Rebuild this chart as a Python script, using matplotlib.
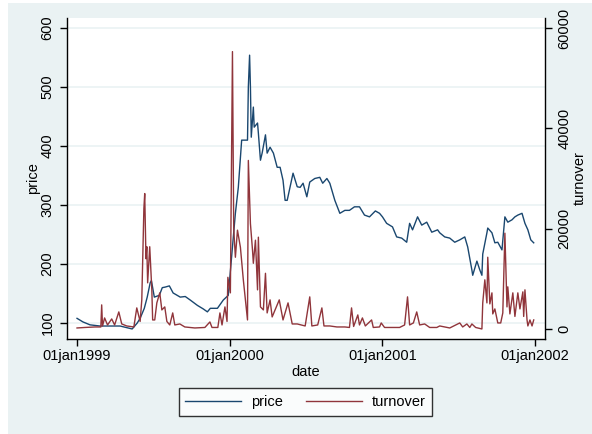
import matplotlib
matplotlib.use("Agg")
import matplotlib.pyplot as plt
import pandas as pd
from matplotlib.patches import Rectangle

plt.rcParams['font.family'] = ['Liberation Sans', 'DejaVu Sans']

price_dates = [
    "1999-01-01", "1999-01-15", "1999-02-01", "1999-02-25", "1999-03-21", "1999-04-14",
    "1999-05-13", "1999-05-25", "1999-06-01", "1999-06-11", "1999-06-18", "1999-06-25",
    "1999-06-28", "1999-07-05", "1999-07-17", "1999-07-24", "1999-07-31", "1999-08-10",
    "1999-08-19", "1999-09-05", "1999-09-17", "1999-09-29", "1999-10-16", "1999-10-30",
    "1999-11-09", "1999-11-16", "1999-12-03", "1999-12-17", "1999-12-29",
    "2000-01-08", "2000-01-15", "2000-01-22", "2000-01-30", "2000-02-13", "2000-02-15",
    "2000-02-18", "2000-02-20", "2000-02-22", "2000-02-27", "2000-02-29", "2000-03-08",
    "2000-03-10", "2000-03-15", "2000-03-19", "2000-03-27", "2000-03-31", "2000-04-07",
    "2000-04-15", "2000-04-24", "2000-05-01", "2000-05-08", "2000-05-13", "2000-05-18",
    "2000-05-25", "2000-06-01", "2000-06-11", "2000-06-18", "2000-06-25", "2000-07-04",
    "2000-07-11", "2000-07-23", "2000-08-04", "2000-08-11", "2000-08-21", "2000-08-28",
    "2000-09-09", "2000-09-21", "2000-10-03", "2000-10-14", "2000-10-26", "2000-11-07",
    "2000-11-19", "2000-12-01", "2000-12-15", "2000-12-25",
    "2001-01-01", "2001-01-11", "2001-01-25", "2001-02-04", "2001-02-16", "2001-02-28",
    "2001-03-07", "2001-03-14", "2001-03-26", "2001-04-05", "2001-04-17", "2001-04-29",
    "2001-05-13", "2001-05-18", "2001-05-30", "2001-06-11", "2001-06-23", "2001-07-05",
    "2001-07-17", "2001-07-24", "2001-08-03", "2001-08-05", "2001-08-15", "2001-08-22",
    "2001-08-27", "2001-08-29", "2001-09-08", "2001-09-10", "2001-09-20", "2001-09-27",
    "2001-10-04", "2001-10-14", "2001-10-21", "2001-10-28", "2001-11-07", "2001-11-14",
    "2001-11-21", "2001-12-01", "2001-12-08", "2001-12-15", "2001-12-22", "2001-12-29",
]
price_values = [
    108, 102, 97, 95, 95, 95,
    90, 100, 108, 125, 144, 168,
    172, 144, 147, 160, 161, 163,
    151, 144, 145, 139, 130, 124,
    119, 125, 125, 139, 147,
    229, 286, 330, 410, 410, 500,
    554, 500, 415, 466, 432, 439,
    422, 376, 388, 419, 388, 398,
    388, 364, 364, 342, 308, 308,
    331, 354, 331, 330, 337, 314,
    339, 345, 347, 337, 345, 337,
    308, 286, 291, 291, 297, 297,
    283, 280, 290, 286,
    280, 269, 263, 246, 244, 237,
    269, 258, 280, 266, 271, 254,
    258, 253, 246, 244, 237, 241,
    246, 229, 190, 181, 205, 190,
    181, 217, 253, 261, 253, 236,
    237, 224, 280, 271, 275, 280,
    283, 286, 269, 258, 241, 236,
]

turnover_dates = [
    "1999-01-01", "1999-01-20", "1999-02-13", "1999-02-27", "1999-03-01", "1999-03-03",
    "1999-03-08", "1999-03-15", "1999-03-25", "1999-04-01", "1999-04-11", "1999-04-18",
    "1999-04-30", "1999-05-17", "1999-05-24", "1999-06-01", "1999-06-05", "1999-06-10",
    "1999-06-12", "1999-06-15", "1999-06-17", "1999-06-19", "1999-06-24", "1999-06-29",
    "1999-07-01", "1999-07-06", "1999-07-11", "1999-07-18", "1999-07-23", "1999-07-30",
    "1999-08-04", "1999-08-11", "1999-08-18", "1999-08-23", "1999-09-04", "1999-09-16",
    "1999-10-10", "1999-11-03", "1999-11-15", "1999-11-20", "1999-12-04", "1999-12-09",
    "1999-12-14", "1999-12-21", "1999-12-26", "1999-12-28",
    "2000-01-03", "2000-01-08", "2000-01-11", "2000-01-15", "2000-01-20", "2000-01-27",
    "2000-02-03", "2000-02-13", "2000-02-15", "2000-02-20", "2000-02-25", "2000-02-27",
    "2000-03-03", "2000-03-08", "2000-03-10", "2000-03-15", "2000-03-22", "2000-03-27",
    "2000-03-31", "2000-04-07", "2000-04-12", "2000-04-24", "2000-04-29", "2000-05-08",
    "2000-05-20", "2000-05-30", "2000-06-11", "2000-06-30", "2000-07-11", "2000-07-16",
    "2000-07-30", "2000-08-09", "2000-08-14", "2000-08-28", "2000-09-14", "2000-10-03",
    "2000-10-14", "2000-10-19", "2000-10-24", "2000-11-03", "2000-11-07", "2000-11-14",
    "2000-11-21", "2000-12-06", "2000-12-10", "2000-12-25", "2000-12-29",
    "2001-01-06", "2001-01-25", "2001-02-11", "2001-02-23", "2001-03-02", "2001-03-07",
    "2001-03-16", "2001-03-24", "2001-03-31", "2001-04-12", "2001-04-24", "2001-05-11",
    "2001-05-18", "2001-06-11", "2001-07-05", "2001-07-12", "2001-07-22", "2001-07-29",
    "2001-08-03", "2001-08-12", "2001-08-27", "2001-08-29", "2001-09-03", "2001-09-08",
    "2001-09-10", "2001-09-15", "2001-09-20", "2001-09-22", "2001-09-27", "2001-10-04",
    "2001-10-11", "2001-10-16", "2001-10-21", "2001-10-26", "2001-10-28", "2001-11-02",
    "2001-11-09", "2001-11-14", "2001-11-21", "2001-11-26", "2001-12-03", "2001-12-05",
    "2001-12-08", "2001-12-13", "2001-12-15", "2001-12-20", "2001-12-25", "2001-12-29",
]
turnover_values = [
    200, 300, 400, 400, 4800, 600,
    2200, 800, 2000, 800, 3400, 1000,
    600, 400, 4200, 1500, 5800, 24000,
    27000, 14000, 16400, 9200, 16400, 7800,
    1800, 1800, 5200, 7200, 3800, 4400,
    1500, 800, 3200, 800, 1000, 400,
    200, 300, 1400, 300, 300, 3200,
    800, 4400, 1500, 10300,
    7200, 55300, 20000, 14300, 19700, 16300,
    9800, 1800, 33600, 21000, 15700, 13100,
    17700, 7800, 18300, 4400, 3800, 11100,
    3200, 5800, 2400, 4800, 5800, 1800,
    5200, 1000, 1000, 600, 6400, 600,
    800, 4200, 600, 600, 400, 400,
    300, 4200, 500, 2800, 800, 2200,
    600, 1800, 300, 400, 1200,
    300, 300, 300, 800, 6400, 800,
    1200, 3400, 800, 1000, 300, 300,
    600, 200, 1200, 400, 1000, 300,
    1000, 300, 0, 5200, 9800, 5200,
    14300, 5000, 7200, 3000, 4000, 1200,
    1200, 3200, 19100, 4400, 8400, 3000,
    7200, 2500, 7200, 4000, 7400, 2500,
    7800, 1800, 600, 1800, 600, 1800,
]

left_ticks = [100, 200, 300, 400, 500, 600]
right_ticks = [0, 20000, 40000, 60000]
x_ticks = ["1999-01-01", "2000-01-01", "2001-01-01", "2002-01-01"]
x_ticklabels = ["01jan1999", "01jan2000", "01jan2001", "01jan2002"]

NAVY = "#1A476F"
MAROON = "#90353B"
BG = "#EAF2F3"
FS = 10.5

W, H = 592, 434
fig = plt.figure(figsize=(W / 100, H / 100), dpi=100, facecolor="white")
bg = Rectangle((8 / W, 0), 1 - 8 / W, 1 - 3 / H, transform=fig.transFigure,
               facecolor=BG, edgecolor="none", zorder=-10)
fig.patches.append(bg)

ax = fig.add_axes([67 / W, 1 - 339 / H, (545 - 67) / W, (339 - 18) / H])
ax.set_facecolor("white")
ax2 = ax.twinx()

pd_price = pd.to_datetime(price_dates)
pd_turn = pd.to_datetime(turnover_dates)

l1, = ax.plot(pd_price, price_values, color=NAVY, lw=1.0, label="price")
l2, = ax2.plot(pd_turn, turnover_values, color=MAROON, lw=1.0, label="turnover")

xt = pd.to_datetime(x_ticks)
ax.set_xticks(xt)
ax.set_xticklabels(x_ticklabels, fontsize=FS)
ax.set_xlim(pd.Timestamp("1998-12-08"), pd.Timestamp("2002-01-25"))

ax.set_ylim(73, 617)
ax.set_yticks(left_ticks)
ax.set_yticklabels([str(t) for t in left_ticks], fontsize=FS, rotation=90, va="center")
ax2.set_ylim(-2000, 62000)
ax2.set_yticks(right_ticks)
ax2.set_yticklabels([str(t) for t in right_ticks], fontsize=FS, rotation=90, va="center")

ax.yaxis.grid(True, color=BG, lw=1.2)
ax.set_axisbelow(True)

for a in (ax, ax2):
    a.spines["top"].set_visible(False)
    for s in ("left", "right", "bottom"):
        a.spines[s].set_linewidth(1.0)
        a.spines[s].set_color("black")
ax.spines["right"].set_visible(False)
ax2.spines["left"].set_visible(False)
ax2.spines["bottom"].set_visible(False)

ax.tick_params(axis="y", length=5, width=1, pad=4)
ax.tick_params(axis="x", length=5, width=1, pad=2)
ax2.tick_params(axis="y", length=5, width=1, pad=4)

ax.set_xlabel("date", fontsize=FS, labelpad=2)
ax.set_ylabel("price", fontsize=FS, labelpad=0)
ax2.set_ylabel("turnover", fontsize=FS, labelpad=1)

leg = fig.legend([l1, l2], ["price", "turnover"], loc="center",
                 bbox_to_anchor=(305.5 / W, 1 - 402 / H), ncol=2, fontsize=FS,
                 frameon=True, fancybox=False, edgecolor="black", facecolor="white",
                 handlelength=3.8, columnspacing=1.6, handletextpad=0.7,
                 borderpad=0.45, borderaxespad=0)
leg.get_frame().set_linewidth(1.0)

fig.savefig("out.png", dpi=100, facecolor=fig.get_facecolor())
